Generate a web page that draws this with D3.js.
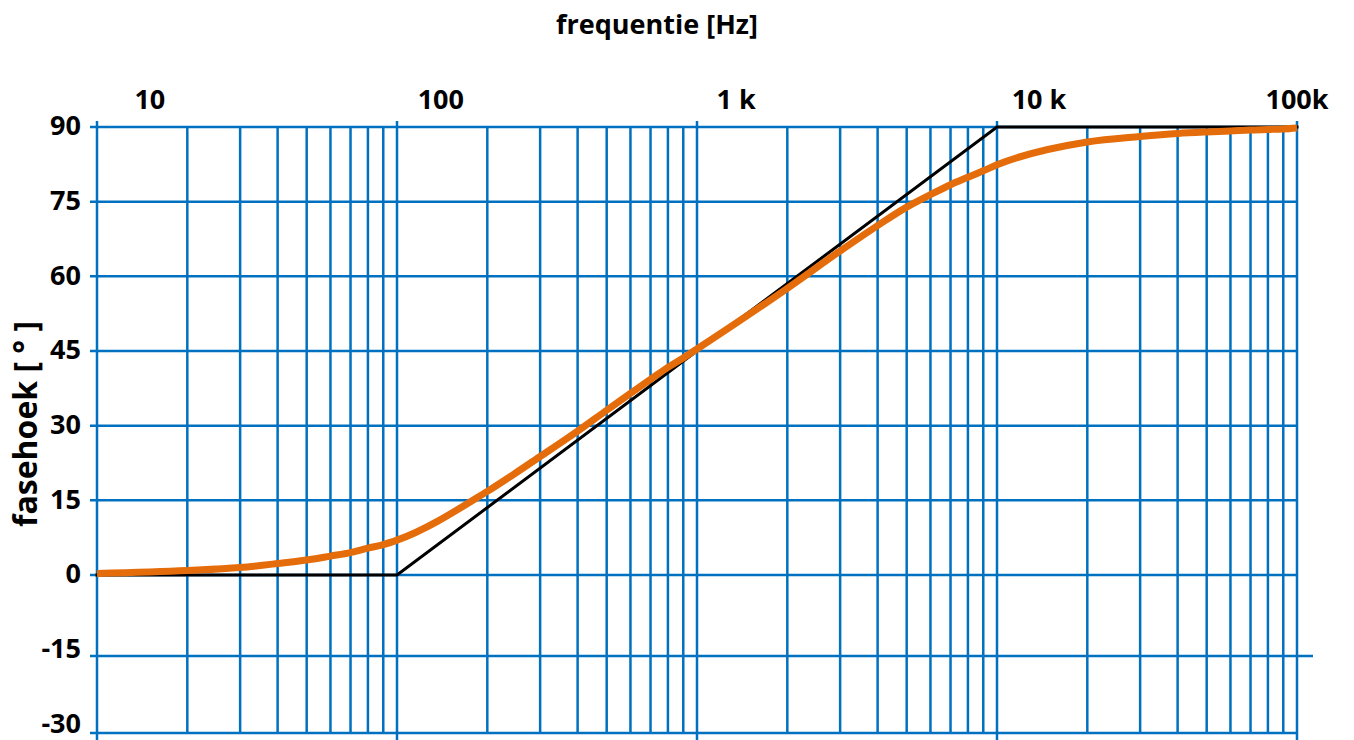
<!DOCTYPE html>
<html lang="nl">
<head>
<meta charset="UTF-8">
<title>Fasehoek</title>
<script src="https://d3js.org/d3.v7.min.js"></script>
<style>
  body { margin: 0; background: #fff; }
  svg { display: block; }
  text { font-family: "Open Sans", Lato, sans-serif; font-weight: 700; fill: #000; }
</style>
</head>
<body>
<svg id="chart" width="1354" height="740"></svg>
<script>
const freqs = [10, 20, 30, 40, 50, 60, 70, 80, 90,
               100, 200, 300, 400, 500, 600, 700, 800, 900,
               1000, 2000, 3000, 4000, 5000, 6000, 7000, 8000, 9000,
               10000, 20000, 30000, 40000, 50000, 60000, 70000, 80000, 90000,
               100000];
const phase = [0.3, 0.9, 1.5, 2.3, 3.0, 3.8, 4.5, 5.4, 6.1,
               7.0, 16.8, 23.8, 28.9, 33.1, 36.5, 39.3, 41.7, 43.6,
               45.4, 57.6, 65.1, 70.2, 73.9, 76.4, 78.4, 79.9, 81.2,
               82.4, 87.0, 88.1, 88.7, 89.0, 89.2, 89.4, 89.5, 89.6,
               89.8];

// asymptotische benadering
const asymFreqs = [10, 100, 10000, 100000];
const asymPhase = [0, 0, 90, 90];

const decades = [10, 100, 1000, 10000, 100000];
const xLabels = ["10", "100", "1 k", "10 k", "100k"];
const xLabelAt = [15, 140, 1350, 13800, 100000];
const yTicks = [90, 75, 60, 45, 30, 15, 0, -15, -30];

const svg = d3.select("#chart");
const blue = "#0070C0";

const x = d3.scaleLog().domain([10, 100000]).range([97, 1297]);
const y = d3.scaleLinear().domain([0, 90]).range([575, 127]);
// onderste rasterlijnen staan in het origineel iets lager
const yGrid = d3.scaleLinear().domain([-30, -15, 0, 90]).range([733, 656, 575, 127]);

const vLines = decades.slice(0, -1)
  .flatMap(d => d3.range(1, 10).map(m => d * m))
  .concat([100000]);

const grid = svg.append("g").attr("stroke", blue).attr("stroke-width", 2.5);

grid.selectAll("line.h")
  .data(yTicks)
  .join("line")
  .attr("class", "h")
  .attr("x1", x(10) - 7)
  .attr("x2", d => d === -15 ? x(100000) + 16 : x(100000))
  .attr("y1", d => yGrid(d))
  .attr("y2", d => yGrid(d));

grid.selectAll("line.v")
  .data(vLines)
  .join("line")
  .attr("class", "v")
  .attr("x1", d => x(d))
  .attr("x2", d => x(d))
  .attr("y1", d => decades.includes(d) ? yGrid(90) - 6 : yGrid(90))
  .attr("y2", d => decades.includes(d) ? yGrid(-30) + 7 : yGrid(-30));

const line = d3.line()
  .x(d => x(d[0]))
  .y(d => y(d[1]));

svg.append("path")
  .datum(d3.zip(asymFreqs, asymPhase))
  .attr("fill", "none")
  .attr("stroke", "#000")
  .attr("stroke-width", 3)
  .attr("stroke-linecap", "square")
  .attr("d", line);

svg.append("path")
  .datum(d3.zip(freqs, phase))
  .attr("fill", "none")
  .attr("stroke", "#E46C0A")
  .attr("stroke-width", 7)
  .attr("d", line.curve(d3.curveMonotoneX));

// as-labels
svg.selectAll("text.y")
  .data(yTicks)
  .join("text")
  .attr("class", "y")
  .attr("x", 81)
  .attr("y", d => y(d) - 1.5)
  .attr("dy", "0.36em")
  .attr("text-anchor", "end")
  .attr("font-size", 27)
  .text(d => d);

svg.selectAll("text.x")
  .data(xLabels)
  .join("text")
  .attr("class", "x")
  .attr("x", (d, i) => x(xLabelAt[i]))
  .attr("y", 109)
  .attr("text-anchor", "middle")
  .attr("font-size", 27)
  .text(d => d);

svg.append("text")
  .attr("x", 657)
  .attr("y", 34)
  .attr("text-anchor", "middle")
  .attr("font-size", 27)
  .text("frequentie [Hz]");

svg.append("text")
  .attr("transform", "translate(37,424) rotate(-90)")
  .attr("text-anchor", "middle")
  .attr("font-size", 32)
  .text("fasehoek [ ° ]");
</script>
</body>
</html>
